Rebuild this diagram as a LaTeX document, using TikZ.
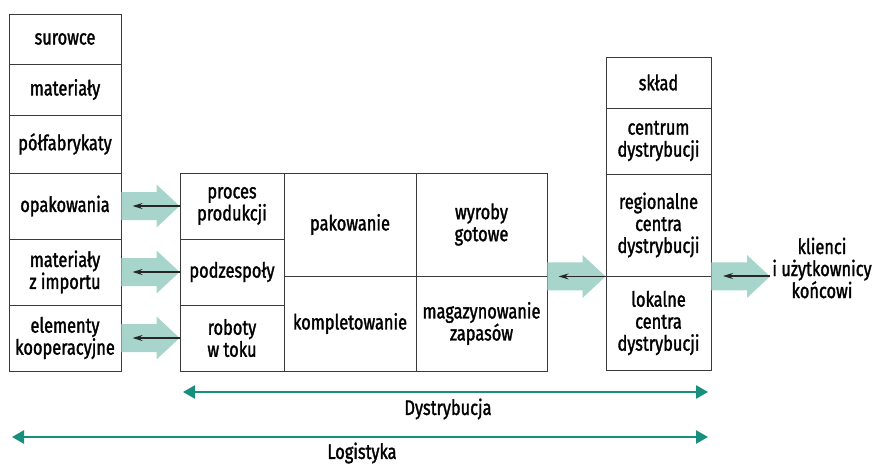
\documentclass[tikz,border=0pt]{standalone}
\usepackage{fontspec}
\setmainfont{Fira Sans}[FakeStretch=0.78, FakeBold=1.5]
\usetikzlibrary{arrows.meta,calc}
\definecolor{boxline}{HTML}{3A3A3A}
\definecolor{flowfill}{HTML}{A7D5CC}
\definecolor{spanline}{HTML}{16907C}
\tikzset{
  cell/.style={draw=boxline, line width=0.9pt, align=center, inner sep=0pt,
    font=\fontsize{21}{22}\selectfont},
  plain/.style={align=center, inner sep=0pt, font=\fontsize{21}{22}\selectfont},
  flow/.style={fill=flowfill, draw=none},
  back/.style={draw=black!85, line width=1.2pt, -{Stealth[length=10pt,width=6pt]}},
  span/.style={draw=spanline, line width=2.4pt,
    {Triangle[length=12pt,width=13pt]}-{Triangle[length=12pt,width=13pt]}},
}
% wide shaded flow arrow from #1 to #2, with a thin return arrow inside
\newcommand\flowarrow[2]{%
  \fill[flow] let \p1=(#1), \p2=(#2) in
    (\x1,\y1+14pt) -- (\x2-23pt,\y1+14pt) -- (\x2-23pt,\y1+21.5pt) -- (\x2,\y1)
    -- (\x2-23pt,\y1-21.5pt) -- (\x2-23pt,\y1-14pt) -- (\x1,\y1-14pt) -- cycle;
  \draw[back] (#2) -- ++(-47pt,0);
}
\begin{document}
\begin{tikzpicture}[x=1pt,y=-1pt]
\useasboundingbox (0,0) rectangle (875,463);

% supply column
\node[cell, minimum width=112pt, minimum height=50pt] (sur) at (65,39) {surowce};
\node[cell, minimum width=112pt, minimum height=51pt] (mat) at (65,89.5) {materiały};
\node[cell, minimum width=112pt, minimum height=58pt] (pol) at (65,144) {półfabrykaty};
\node[cell, minimum width=112pt, minimum height=66pt] (opa) at (65,206) {opakowania};
\node[cell, minimum width=112pt, minimum height=66pt] (imp) at (65,272) {materiały\\z importu};
\node[cell, minimum width=112pt, minimum height=66pt] (koo) at (65,338) {elementy\\kooperacyjne};

% production block
\node[cell, minimum width=104pt, minimum height=66pt] (pro) at (232,206) {proces\\produkcji};
\node[cell, minimum width=104pt, minimum height=66pt] (pod) at (232,272) {podzespoły};
\node[cell, minimum width=104pt, minimum height=66pt] (rob) at (232,338) {roboty\\w toku};
\node[cell, minimum width=132pt, minimum height=103pt] (pak) at (350,224.5) {pakowanie};
\node[cell, minimum width=132pt, minimum height=95pt] (kom) at (350,323.5) {kompletowanie};
\node[cell, minimum width=131pt, minimum height=103pt] (wyr) at (481.5,224.5) {wyroby\\gotowe};
\node[cell, minimum width=131pt, minimum height=95pt] (mag) at (481.5,323.5) {magazynowanie\\zapasów};

% distribution column
\node[cell, minimum width=105pt, minimum height=51pt] (skl) at (658.5,82.5) {skład};
\node[cell, minimum width=105pt, minimum height=66pt] (cen) at (658.5,141) {centrum\\dystrybucji};
\node[cell, minimum width=105pt, minimum height=102pt] (reg) at (658.5,225) {regionalne\\centra\\dystrybucji};
\node[cell, minimum width=105pt, minimum height=94pt] (lok) at (658.5,323) {lokalne\\centra\\dystrybucji};

% customers
\node[plain] (kli) at (822,268) {klienci\\i użytkownicy\\końcowi};
\coordinate (kli-in) at (770,276);

% flows between the stages
\flowarrow{opa.east}{pro.west}
\flowarrow{imp.east}{pod.west}
\flowarrow{koo.east}{rob.west}
\flowarrow{wyr.south east}{reg.south west}
\flowarrow{reg.south east}{kli-in}

% spans
\coordinate (dys-a) at (183,392);
\coordinate (dys-b) at (708,392);
\coordinate (log-a) at (12,437);
\coordinate (log-b) at (708,437);
\draw[span] (dys-a) -- (dys-b);
\draw[span] (log-a) -- (log-b);
\node[plain] (dys) at (448,409) {Dystrybucja};
\node[plain] (log) at (362,453) {Logistyka};
\end{tikzpicture}
\end{document}
